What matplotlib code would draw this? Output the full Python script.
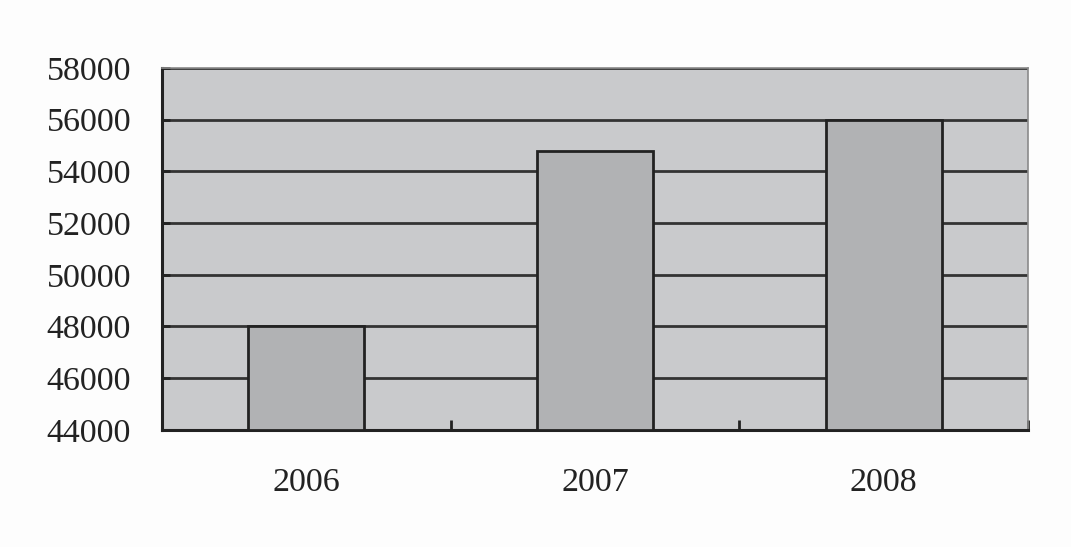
import matplotlib
matplotlib.use("Agg")
import matplotlib.pyplot as plt
import numpy as np

# data
years = ["2006", "2007", "2008"]
values = [48000, 54800, 56000]
yticks = [44000, 46000, 48000, 50000, 52000, 54000, 56000, 58000]

plt.rcParams['font.family'] = ['Liberation Serif', 'DejaVu Serif']

fig = plt.figure(figsize=(10.71, 5.47), dpi=100)
fig.patch.set_facecolor("#fdfdfd")
ax = fig.add_axes([0.151, 0.214, 0.809, 0.662])
ax.set_facecolor("#c9cacc")

x = np.arange(len(years))
ax.bar(x, [v - yticks[0] for v in values], bottom=yticks[0], width=0.40,
       color="#b1b2b4", edgecolor="#222222", linewidth=2, zorder=3)

ax.set_ylim(yticks[0], yticks[-1])
ax.set_xlim(-0.5, len(years) - 0.5)
ax.set_yticks(yticks)
ax.set_yticklabels([str(t) for t in yticks])
ax.yaxis.grid(True, color="#333333", linewidth=2)
ax.set_axisbelow(True)

ax.set_xticks(x)
ax.set_xticklabels(years)
ax.set_xticks(np.arange(len(years) + 1) - 0.5, minor=True)
ax.tick_params(axis='x', which='major', length=0, pad=27, labelsize=24.5, colors="#222222")
ax.tick_params(axis='x', which='minor', direction='in', length=7, width=2, color="#222222")
ax.tick_params(axis='y', direction='in', length=6, width=2, pad=22, labelsize=24.5, colors="#222222")

for s in ['left', 'bottom']:
    ax.spines[s].set_color("#222222")
    ax.spines[s].set_linewidth(2.2)
for s in ['top', 'right']:
    ax.spines[s].set_color("#8a8a8a")
    ax.spines[s].set_linewidth(1.2)

fig.savefig("out.png", dpi=100, facecolor=fig.get_facecolor())
